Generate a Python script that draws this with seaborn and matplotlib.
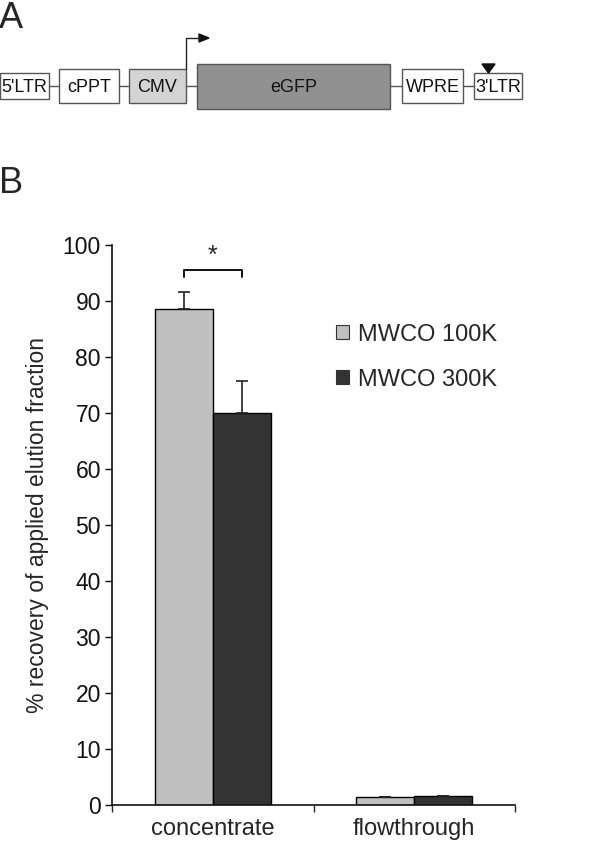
import numpy as np
import pandas as pd
import matplotlib
matplotlib.use("Agg")
import matplotlib.pyplot as plt
from matplotlib.patches import Rectangle, Polygon, Patch
import seaborn as sns

# ---- data ----
categories = ["concentrate", "flowthrough"]
series = ["MWCO 100K", "MWCO 300K"]
mean_100k = [88.7, 1.5]
mean_300k = [70.0, 1.6]
err_100k = [3.0, 0.0]
err_300k = [5.8, 0.0]
yticks = [0, 10, 20, 30, 40, 50, 60, 70, 80, 90, 100]
ylabel = "% recovery of applied elution fraction"

# diagram elements (panel A)
elements = ["5'LTR", "cPPT", "CMV", "eGFP", "WPRE", "3'LTR"]

sns.set_style("ticks")
plt.rcParams["font.family"] = ["Liberation Sans", "DejaVu Sans"]

W, H = 600, 846
fig = plt.figure(figsize=(W / 100, H / 100), dpi=100)

# overlay axes in pixel coordinates for panel A and letters
ov = fig.add_axes([0, 0, 1, 1])
ov.set_xlim(0, W)
ov.set_ylim(H, 0)
ov.axis("off")
ov.patch.set_visible(False)

boxes = [
    (0, 49, 73, 99, "white"),
    (59, 119, 69, 103, "white"),
    (129, 186, 69, 103, "#d4d4d4"),
    (197, 390, 64, 109, "#919191"),
    (402, 463, 69, 103, "white"),
    (474, 522, 73, 99, "white"),
]
line_y = 86
for i in range(len(boxes) - 1):
    ov.plot([boxes[i][1], boxes[i + 1][0]], [line_y, line_y], color="#555555", lw=1.0)
for (x0, x1, y0, y1, fc), lab in zip(boxes, elements):
    ov.add_patch(Rectangle((x0, y0), x1 - x0, y1 - y0, facecolor=fc,
                           edgecolor="#555555", lw=1.0))
    ov.text((x0 + x1) / 2, (y0 + y1) / 2 + 1, lab, ha="center", va="center",
            fontsize=13, color="#111111")
# promoter arrow
ov.plot([186, 186, 200], [69, 38, 38], color="#222222", lw=1.0)
ov.add_patch(Polygon([[199, 34], [209, 38], [199, 42]], closed=True, color="#111111"))
# triangle marker
ov.add_patch(Polygon([[482, 64], [495, 64], [488.5, 73]], closed=True, color="#111111"))

ov.text(-1, 1, "A", fontsize=26, ha="left", va="top")
ov.text(-1, 166, "B", fontsize=26, ha="left", va="top")

# ---- bar chart ----
left, right = 112 / W, 515 / W
bottom, top = (H - 805.3) / H, (H - 245.3) / H
ax = fig.add_axes([left, bottom, right - left, top - bottom])

df = pd.DataFrame({
    "fraction": categories * 2,
    "membrane": [series[0]] * 2 + [series[1]] * 2,
    "recovery": mean_100k + mean_300k,
})
colors = ["#c0c0c0", "#333333"]
sns.barplot(data=df, x="fraction", y="recovery", hue="membrane", order=categories,
            hue_order=series, palette=colors, width=0.575, edgecolor="black",
            linewidth=1.0, errorbar=None, ax=ax, legend=False, saturation=1)

errs = [err_100k, err_300k]
centers = []
for cont, e in zip(ax.containers, errs):
    xs = [b.get_x() + b.get_width() / 2 for b in cont]
    hs = [b.get_height() for b in cont]
    centers.append(xs)
    ax.errorbar(xs, hs, yerr=[[0] * len(e), e], fmt="none", ecolor="#222222",
                elinewidth=1.2, capsize=4, capthick=1.2, zorder=1)

# significance bracket
bx0, bx1 = centers[0][0], centers[1][0]
ax.plot([bx0, bx0, bx1, bx1], [94.3, 95.6, 95.6, 94.3], color="#111111", lw=1.4,
        clip_on=False)
ax.text((bx0 + bx1) / 2, 95.9, "*", ha="center", va="bottom", fontsize=18)

ax.set_xlim(-0.5, 1.5)
ax.set_ylim(0, 100)
ax.set_yticks(yticks)
ax.tick_params(axis="y", labelsize=16.5, length=5, width=1.0, direction="out",
               pad=3, colors="#111111")
ax.set_xticks([0, 1])
ax.set_xticklabels(categories)
ax.set_xticks([-0.5, 0.5, 1.5], minor=True)
ax.tick_params(axis="x", which="major", length=0, labelsize=17, pad=9)
ax.tick_params(axis="x", which="minor", length=5, width=1.0, direction="out")
ax.set_xlabel("")
ax.set_ylabel(ylabel, fontsize=16.5, labelpad=10)
for s in ["top", "right"]:
    ax.spines[s].set_visible(False)
for s in ["left", "bottom"]:
    ax.spines[s].set_linewidth(1.2)
    ax.spines[s].set_color("#111111")

handles = [Patch(facecolor=c, edgecolor="#333333", lw=0.8) for c in colors]
ax.legend(handles, series, loc="upper left", bbox_to_anchor=(0.556, 0.86),
          frameon=False, fontsize=17, handlelength=0.55, handleheight=0.55,
          handletextpad=0.4, labelspacing=0.97, borderpad=0, borderaxespad=0)

fig.savefig("out.png", dpi=100)
